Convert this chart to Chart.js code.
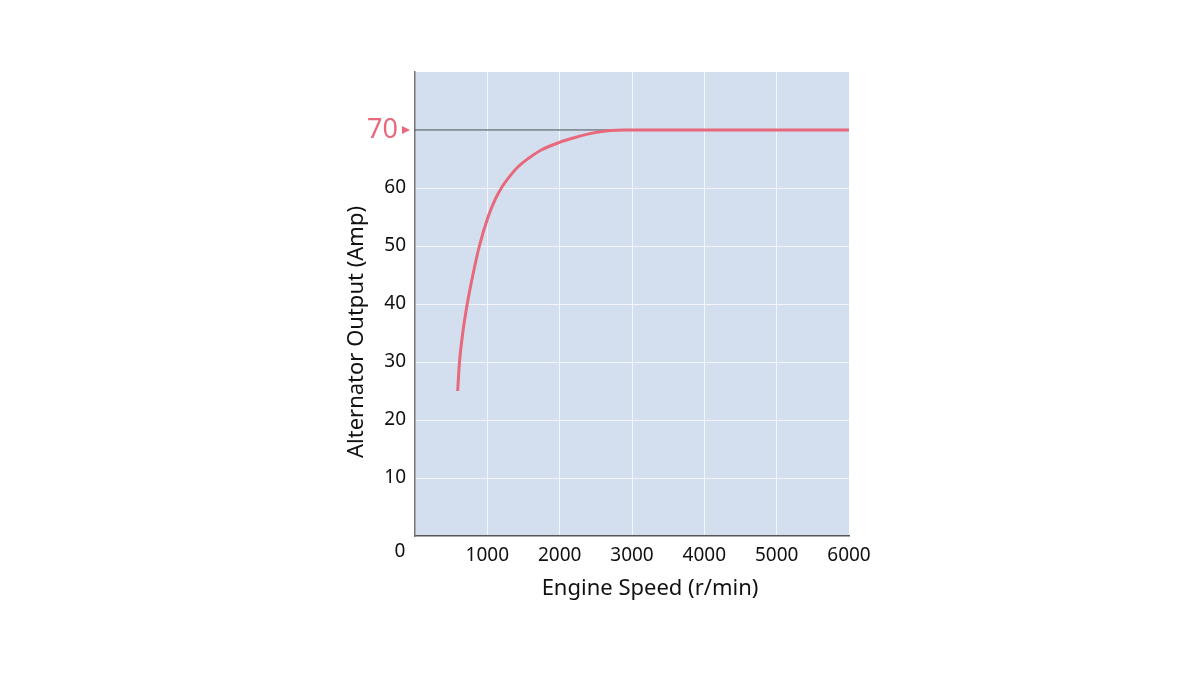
<!DOCTYPE html>
<html>
<head>
<meta charset="utf-8">
<script src="https://cdn.jsdelivr.net/npm/chart.js@4"></script>
<style>
  html, body { margin: 0; padding: 0; background: #fff; }
  #wrap { width: 1200px; height: 675px; }
</style>
</head>
<body>
<div id="wrap"><canvas id="altChart"></canvas></div>
<script>
// curve
const engineSpeed = [590, 615, 660, 722, 800, 890, 1010, 1115, 1198, 1290, 1429, 1567, 1752, 2005, 2212, 2470, 2700, 2900, 6000];
const alternatorAmp = [25, 30, 35, 40, 45, 50, 55, 58.2, 60.1, 61.7, 63.7, 65.1, 66.6, 67.9, 68.7, 69.5, 69.9, 70, 70];
// rated output marker line
const ratedSpeed = [0, 2900];
const ratedAmp = [70, 70];
const yTicks = [0, 10, 20, 30, 40, 50, 60, 70, 80];
const xTicks = [0, 1000, 2000, 3000, 4000, 5000, 6000];
const ratedLabel = 70;

const pink = '#e8697b';
const font = "'Noto Sans', 'Open Sans', sans-serif";

const curvePoints = engineSpeed.map((x, i) => ({ x: x, y: alternatorAmp[i] }));
const ratedPoints = ratedSpeed.map((x, i) => ({ x: x, y: ratedAmp[i] }));

const decorPlugin = {
    id: 'decor',
    beforeDraw(chart) {
        const { ctx, chartArea } = chart;
        ctx.save();
        ctx.fillStyle = '#d3dfee';
        ctx.fillRect(chartArea.left, chartArea.top, chartArea.right - chartArea.left, chartArea.bottom - chartArea.top);
        ctx.restore();
    },
    afterDraw(chart) {
        const { ctx, chartArea, scales } = chart;
        ctx.save();
        // pink 70 label with its little arrow
        const y70 = scales.y.getPixelForValue(ratedLabel);
        ctx.fillStyle = pink;
        ctx.font = '27px ' + font;
        ctx.textAlign = 'right';
        ctx.textBaseline = 'middle';
        ctx.fillText(String(ratedLabel), chartArea.left - 17, y70);
        ctx.beginPath();
        ctx.moveTo(chartArea.left - 13, y70 - 4);
        ctx.lineTo(chartArea.left - 5, y70);
        ctx.lineTo(chartArea.left - 13, y70 + 4);
        ctx.closePath();
        ctx.fill();
        // the lone corner "0"
        ctx.fillStyle = '#111';
        ctx.font = '19px ' + font;
        ctx.textAlign = 'center';
        ctx.fillText('0', scales.x.getPixelForValue(0) - 15, scales.y.getPixelForValue(0) + 16);
        // axis titles
        ctx.font = '22px ' + font;
        ctx.fillText('Engine Speed (r/min)', 650, 589);
        ctx.translate(357, 332);
        ctx.rotate(-Math.PI / 2);
        ctx.fillText('Alternator Output (Amp)', 0, 0);
        ctx.restore();
    }
};

const ctx = document.getElementById('altChart').getContext('2d');
new Chart(ctx, {
    type: 'scatter',
    data: {
        datasets: [{
            data: curvePoints,
            showLine: true,
            borderColor: pink,
            borderWidth: 3,
            pointRadius: 0,
            cubicInterpolationMode: 'monotone',
            order: 1
        }, {
            data: ratedPoints,
            showLine: true,
            borderColor: '#3d4450',
            borderWidth: 1,
            pointRadius: 0,
            order: 2
        }]
    },
    options: {
        responsive: true,
        maintainAspectRatio: false,
        animation: false,
        layout: { padding: { left: 335, right: 351, top: 72, bottom: 59 } },
        plugins: { legend: { display: false }, tooltip: { enabled: false } },
        scales: {
            x: {
                type: 'linear',
                min: 0,
                max: 6000,
                afterBuildTicks: s => { s.ticks = xTicks.map(v => ({ value: v })); },
                afterFit: s => { s.height = 80; },
                border: { color: '#555', width: 1.5 },
                grid: {
                    color: c => (c.tick && (c.tick.value === 0 || c.tick.value === 6000)) ? 'rgba(0,0,0,0)' : '#f2f6fb',
                    lineWidth: 1,
                    drawTicks: false
                },
                ticks: {
                    padding: 8,
                    color: '#111',
                    font: { family: font, size: 19 },
                    maxRotation: 0,
                    callback: v => v === 0 ? '' : String(v)
                }
            },
            y: {
                min: 0,
                max: 80,
                afterBuildTicks: s => { s.ticks = yTicks.map(v => ({ value: v })); },
                afterFit: s => { s.width = 80; },
                border: { color: '#777', width: 1.5 },
                grid: {
                    color: c => (c.tick && (c.tick.value === 0 || c.tick.value === 80)) ? 'rgba(0,0,0,0)' : '#f2f6fb',
                    lineWidth: 1,
                    drawTicks: false
                },
                ticks: {
                    padding: 9,
                    color: '#111',
                    font: { family: font, size: 19 },
                    callback: v => (v === 0 || v === 80 || v === ratedLabel) ? '' : String(v)
                }
            }
        }
    },
    plugins: [decorPlugin]
});
</script>
</body>
</html>
